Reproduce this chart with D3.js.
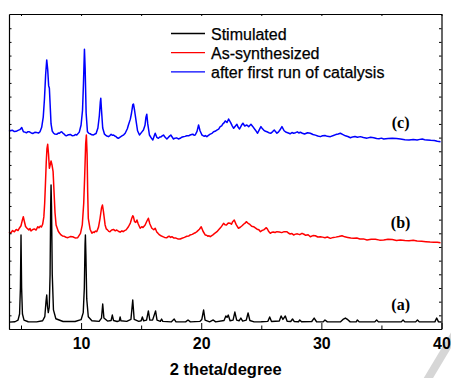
<html>
<head>
  <style>
  body { margin: 0; background: #fff; }
  #chart text { font-family: "Liberation Sans", Arial, sans-serif; }
  #chart .trace { fill: none; stroke-linejoin: round; }
  #chart .tag { font-family: "Liberation Serif", "Times New Roman", serif; font-weight: bold; font-size: 16px; text-anchor: middle; }
  #chart .legend text { stroke: #000; stroke-width: 0.25px; }
  </style>
  <script src="https://d3js.org/d3.v7.min.js"></script>
</head>
<body>
  <svg id="chart"></svg>
</body>
  <script>

  // [2 theta, intensity] (offset stacking kept as drawn)
  var simulated = [[4.0,5.0],[4.5,5.3],[4.75,6.5],[4.88,11],[4.95,30],[5.0,68.8],[5.05,30],[5.12,11],[5.25,6.5],[5.6,5.3],[6.3,5.2],[6.8,6.0],[6.98,9],[7.08,20],[7.14,24.9],[7.2,17],[7.27,12],[7.35,16],[7.42,40],[7.47,90],[7.5,105.3],[7.54,90],[7.6,40],[7.7,14],[7.9,7.5],[8.5,5.5],[9.5,5.5],[10.0,6.8],[10.18,12],[10.27,30],[10.33,62],[10.36,68.8],[10.4,55],[10.47,22],[10.6,9],[10.9,6],[11.5,5.6],[11.7,8],[11.8,18.3],[11.9,8],[12.2,5.8],[12.5,6.2],[12.6,10.2],[12.7,6.2],[13.0,5.5],[13.18,6],[13.25,8.8],[13.32,6],[13.8,5.6],[14.15,7],[14.3,21.2],[14.42,7],[14.8,5.6],[15.0,6],[15.1,8.8],[15.2,6],[15.45,6.5],[15.6,13.2],[15.72,6.5],[15.95,6.5],[16.2,13.2],[16.32,6.5],[16.6,5.6],[16.7,7.3],[16.8,5.6],[17.5,5.2],[17.75,7.3],[17.9,5.2],[18.7,5.2],[18.9,6.6],[19.1,5.2],[19.9,5.6],[20.05,7],[20.2,13.9],[20.32,6.5],[20.7,5.2],[21.0,6.6],[21.2,5.2],[21.9,6.2],[22.05,9.5],[22.15,8.5],[22.25,10.2],[22.4,6],[22.65,6.5],[22.8,12.4],[22.95,6.5],[23.15,6],[23.3,8.0],[23.45,5.8],[23.75,6.5],[23.9,11.7],[24.05,6.2],[24.4,5.2],[25.0,5.3],[25.55,5.6],[25.7,8.8],[25.85,5.5],[26.5,5.8],[26.65,9.5],[26.8,7],[27.0,9.5],[27.15,5.6],[27.45,5.5],[27.6,7.3],[27.75,5.4],[28.1,5.3],[28.2,6.6],[28.35,5.3],[29.2,5.5],[29.4,8.0],[29.6,5.3],[30.15,5.2],[30.3,6.6],[30.5,5.2],[31.6,5.3],[31.8,7],[32.0,8.0],[32.2,6.8],[32.4,5.2],[32.9,5.2],[33.0,6.6],[33.15,5.2],[34.45,5.2],[34.6,6.6],[34.75,5.2],[36.65,5.2],[36.8,6.6],[36.95,5.2],[37.85,5.2],[38.0,6.6],[38.15,5.2],[39.45,5.2],[39.6,8.0],[39.75,5.2],[40.0,5.1]];

  var asSynthesized = [[4.0,71.0],[4.15,70.2],[4.3,72.0],[4.45,71.1],[4.6,72.8],[4.75,72.0],[4.86,73.7],[5.0,75.5],[5.12,80],[5.19,82.1],[5.27,79],[5.38,75],[5.5,73.7],[5.65,72.5],[5.75,73.4],[5.83,71.7],[5.95,72.6],[6.1,73.2],[6.25,72.4],[6.4,74.8],[6.5,74.0],[6.6,75.3],[6.7,74.6],[6.8,76.6],[6.9,82],[6.97,92],[7.03,105.3],[7.1,122],[7.16,132],[7.22,135.1],[7.29,128],[7.36,117.6],[7.43,120],[7.5,122.9],[7.58,120],[7.67,115.1],[7.75,100],[7.83,85],[7.92,76.1],[8.1,71.5],[8.2,70.2],[8.33,68.8],[8.45,68.1],[8.6,67.8],[8.75,67.1],[8.9,66.8],[9.1,67.6],[9.3,67.5],[9.5,66.6],[9.72,66.8],[9.95,70],[10.1,76.1],[10.22,92],[10.3,112],[10.38,135],[10.44,141.9],[10.5,128],[10.55,100],[10.6,81.0],[10.75,73],[10.9,70.0],[11.0,71.0],[11.1,70.6],[11.2,71.6],[11.3,71.2],[11.45,74.5],[11.58,81.0],[11.7,88.5],[11.78,90.7],[11.86,86],[12.0,76.1],[12.1,73.2],[12.2,72.5],[12.3,71.4],[12.4,71.2],[12.55,72.4],[12.7,72.8],[12.85,71.8],[12.97,72.4],[13.1,71.5],[13.25,70.8],[13.4,71.8],[13.5,71.2],[13.62,72.0],[13.75,72.5],[13.94,74.8],[14.1,77.5],[14.22,81.0],[14.3,82.9],[14.36,82.0],[14.45,78.5],[14.55,78],[14.65,79.7],[14.75,77],[14.92,73.7],[15.05,74.8],[15.15,74.2],[15.33,76.1],[15.48,79],[15.6,81.0],[15.72,77],[15.89,73.7],[16.05,72.6],[16.17,73.7],[16.3,71],[16.42,69.8],[16.53,68.8],[16.65,68.2],[16.8,67.6],[16.95,67.0],[17.14,66.8],[17.25,67.6],[17.35,67.9],[17.45,67.0],[17.56,67.5],[17.7,66.6],[17.9,66.5],[18.05,65.9],[18.25,65.8],[18.4,66.4],[18.6,67],[18.8,67.8],[18.95,68.0],[19.08,68.8],[19.25,69.2],[19.4,70],[19.52,70.4],[19.64,71.2],[19.85,73],[20.0,74.8],[20.15,71.5],[20.33,68.8],[20.45,68.6],[20.55,67.8],[20.65,68.2],[20.75,67.5],[20.88,68.3],[21.0,69],[21.15,70.2],[21.31,71.2],[21.45,72.6],[21.6,74],[21.72,75.4],[21.86,77.3],[21.98,76.2],[22.1,76],[22.25,77.6],[22.42,77.3],[22.52,76.6],[22.6,78.2],[22.75,79.7],[22.9,76.5],[23.0,75.1],[23.1,73.7],[23.25,74.4],[23.4,75.5],[23.55,76.8],[23.65,77.4],[23.75,78.5],[23.9,77.3],[24.05,76.5],[24.2,75.2],[24.36,74.8],[24.5,74.0],[24.65,73],[24.8,72.6],[24.92,71.2],[25.05,72.0],[25.2,72.5],[25.3,73.2],[25.42,74.1],[25.52,73.0],[25.6,71.5],[25.75,70.0],[25.9,70.8],[26.0,71],[26.15,70.6],[26.3,71.2],[26.5,71.0],[26.7,70.5],[26.9,71.2],[27.14,71.2],[27.25,70.2],[27.4,69.5],[27.55,69.8],[27.69,68.8],[27.85,69.4],[28.0,69.6],[28.2,69.0],[28.39,70.0],[28.55,69.3],[28.7,68.5],[28.9,68.9],[29.08,67.5],[29.3,68.3],[29.5,68.2],[29.7,67.3],[29.92,67.5],[30.1,67.2],[30.3,66.8],[30.5,67.3],[30.75,66.3],[31.0,67.0],[31.2,67.2],[31.45,67.6],[31.72,68.2],[31.95,67.4],[32.2,67],[32.45,66.6],[32.69,66.3],[32.95,66.5],[33.2,65.8],[33.5,65.9],[33.8,65.1],[34.15,65.7],[34.5,65.6],[34.85,65.0],[35.19,65.1],[35.55,65.6],[35.9,65.4],[36.25,64.8],[36.58,65.1],[36.95,64.7],[37.3,64.5],[37.65,64.9],[37.97,64.4],[38.35,64.2],[38.7,63.9],[39.05,63.6],[39.36,63.4],[39.65,63.5],[39.92,63.1]];

  var afterCatalysis = [[4.0,144.5],[4.15,145.2],[4.3,145.3],[4.45,144.4],[4.6,144.6],[4.75,145.3],[4.9,145.8],[5.06,147.3],[5.2,144.3],[5.32,144.0],[5.45,143.5],[5.58,144.3],[5.7,144.2],[5.85,143.4],[6.0,143.0],[6.15,143.9],[6.3,143.8],[6.45,143.3],[6.58,144.3],[6.72,147.5],[6.85,155],[6.95,168],[7.05,186],[7.14,196.8],[7.22,190],[7.3,178],[7.36,176.1],[7.42,165],[7.5,150],[7.6,144.8],[7.7,143.4],[7.8,142.6],[7.97,142.4],[8.1,143.3],[8.2,143.2],[8.3,144.0],[8.4,144.2],[8.5,143.1],[8.6,142.5],[8.7,141.6],[8.8,141.4],[8.95,142.1],[9.1,142.3],[9.25,141.4],[9.4,141.5],[9.52,142.2],[9.64,141.9],[9.85,144],[10.0,149.2],[10.12,160],[10.2,180],[10.28,204.6],[10.34,190],[10.42,158],[10.53,144.3],[10.65,143.1],[10.75,142.8],[10.9,142.0],[11.03,141.9],[11.15,142.6],[11.25,143],[11.4,147],[11.52,156],[11.6,166],[11.64,168.8],[11.7,160],[11.8,147],[11.95,142.5],[12.1,141.3],[12.28,140.7],[12.4,141.5],[12.5,142.4],[12.6,141.7],[12.7,141.9],[12.8,141.2],[12.9,140.8],[13.0,139.9],[13.1,139.5],[13.25,140.4],[13.4,141.2],[13.55,142.0],[13.67,143.2],[13.85,146.5],[13.94,149.2],[14.1,153.5],[14.2,158],[14.3,164],[14.36,164.6],[14.45,160],[14.58,152],[14.7,145],[14.86,141.9],[15.05,144],[15.19,145.6],[15.32,149],[15.4,155],[15.47,157.1],[15.55,150],[15.69,141.9],[15.85,139.6],[15.97,138.3],[16.1,141.5],[16.17,143.2],[16.3,140.2],[16.44,139.5],[16.55,140.4],[16.65,140.5],[16.75,141.2],[16.86,141.9],[17.0,140.2],[17.14,139.0],[17.3,140.5],[17.47,141.9],[17.58,140.4],[17.69,139.0],[17.82,139.6],[17.95,139.8],[18.1,139.0],[18.25,139.5],[18.38,140.3],[18.5,140.6],[18.65,140.9],[18.8,141.4],[18.95,141.3],[19.08,141.9],[19.2,142.3],[19.3,142.5],[19.4,141.8],[19.5,141.9],[19.65,144.5],[19.78,149.2],[19.9,145],[20.06,141.9],[20.15,141.4],[20.25,141],[20.35,141.5],[20.47,140.7],[20.6,141.6],[20.75,142.5],[20.9,143.1],[21.03,144.3],[21.15,144.6],[21.3,145.5],[21.45,146.2],[21.58,148.0],[21.7,148.6],[21.8,150],[21.9,150.8],[22.0,152.2],[22.15,151],[22.28,153.6],[22.45,151],[22.58,148.6],[22.7,146.8],[22.85,148.5],[22.97,149.7],[23.08,147.5],[23.19,146.3],[23.35,149],[23.47,150.5],[23.62,148.5],[23.8,149.2],[23.95,148],[24.14,149.7],[24.3,148],[24.5,145.6],[24.69,143.2],[24.85,146],[24.97,148.0],[25.1,146.4],[25.2,145.5],[25.35,144.6],[25.47,144.3],[25.62,143.6],[25.8,143.2],[25.95,144.4],[26.08,145.6],[26.2,144.2],[26.3,143.2],[26.42,144.0],[26.55,145.5],[26.72,148.0],[26.9,145],[27.08,143.9],[27.25,143.4],[27.4,142.8],[27.55,143.7],[27.69,143.2],[27.85,143.6],[28.0,144.2],[28.12,143.4],[28.25,143.9],[28.42,143.2],[28.6,142.6],[28.85,143.5],[29.08,143.2],[29.3,142.3],[29.5,141.8],[29.7,141.2],[29.92,140.7],[30.1,141.3],[30.3,141.5],[30.5,140.9],[30.75,140.7],[31.0,141.5],[31.2,142.2],[31.4,142.6],[31.58,143.2],[31.8,142.2],[32.0,141.3],[32.2,140.8],[32.42,139.9],[32.6,140.5],[32.8,140.8],[33.0,140.2],[33.25,140.7],[33.5,140.1],[33.8,139.6],[34.1,140.2],[34.36,139.9],[34.6,139.3],[34.8,139.2],[35.0,139.6],[35.19,139.0],[35.55,139.4],[35.9,139.6],[36.25,139.3],[36.58,139.0],[36.95,138.5],[37.3,138.2],[37.65,138.6],[37.97,138.3],[38.2,138.7],[38.4,138.9],[38.6,138.5],[38.8,138.3],[39.1,138.0],[39.4,137.8],[39.65,137.3],[39.92,137.0]];

  var seriesNames = ["Stimulated", "As-synthesized", "after first run of catalysis"];
  var seriesColors = ["#000000", "#ff0000", "#0000ff"];
  var seriesWidths = [1.4, 1.5, 1.5];
  var traceTags = ["(a)", "(b)", "(c)"];
  var tagLevels = [14, 74, 147];   // intensity at which each tag sits
  var tagAt = 36.6;

  var xMajor = [10, 20, 30, 40];
  var xMinor = [5, 15, 25, 35];
  var yTicks = d3.range(10, 230, 10);

  var width = 451,
      height = 378;
  var plotL = 9, plotR = 441.5, plotT = 14, plotB = 329;

  var x = d3.scaleLinear().domain([4, 40]).range([plotL, plotR]);
  var y = d3.scaleLinear().domain([0, 230.4]).range([plotB, plotT]);

  var svg = d3.select("#chart")
      .attr("width", width)
      .attr("height", height);

  // faint diagonal watermark stroke in the corner
  svg.append("line")
      .attr("x1", 426).attr("y1", 382).attr("x2", 456).attr("y2", 332)
      .attr("stroke", "#d6d6d6").attr("stroke-width", 8);

  var line = d3.line()
      .x(function(d) { return x(d[0]); })
      .y(function(d) { return y(d[1]); });

  var data = [simulated, asSynthesized, afterCatalysis];
  [2, 1, 0].forEach(function(i) {
    svg.append("path")
        .attr("class", "trace")
        .attr("stroke", seriesColors[i])
        .attr("stroke-width", seriesWidths[i])
        .attr("d", line(data[i]));
  });

  // frame + inward ticks
  function noText(g) { g.selectAll("text").remove(); }

  svg.append("g")
      .attr("transform", "translate(0," + plotB + ")")
      .call(d3.axisBottom(x).tickValues(xMinor).tickSize(-3.5).tickSizeOuter(0))
      .call(noText);
  var xb = svg.append("g")
      .attr("transform", "translate(0," + plotB + ")")
      .call(d3.axisBottom(x).tickValues(xMajor).tickFormat(d3.format("d"))
        .tickSizeInner(-6).tickSizeOuter(0).tickPadding(8.5));
  xb.selectAll("text")
      .attr("font-size", 16).attr("font-weight", "bold").attr("fill", "#000");

  svg.append("g")
      .attr("transform", "translate(0," + plotT + ")")
      .call(d3.axisTop(x).tickValues(xMajor.concat(xMinor)).tickSize(-2).tickSizeOuter(0))
      .call(noText);
  svg.append("g")
      .attr("transform", "translate(" + plotL + ",0)")
      .call(d3.axisLeft(y).tickValues(yTicks).tickSize(-2.5).tickSizeOuter(0))
      .call(noText);
  svg.append("g")
      .attr("transform", "translate(" + plotR + ",0)")
      .call(d3.axisRight(y).tickValues(yTicks).tickSize(-2.5).tickSizeOuter(0))
      .call(noText);
  svg.selectAll(".domain").attr("stroke", "#000").attr("stroke-width", 1.2);

  svg.append("text")
      .attr("x", (plotL + plotR) / 2 + 0.5)
      .attr("y", 375)
      .attr("text-anchor", "middle")
      .attr("font-size", 16.5)
      .attr("font-weight", "bold")
      .text("2 theta/degree");

  // trace tags
  svg.selectAll(".tag")
      .data(traceTags)
    .enter().append("text")
      .attr("class", "tag")
      .attr("x", x(tagAt))
      .attr("y", function(d, i) { return y(tagLevels[i]); })
      .text(function(d) { return d; });

  // legend
  var legend = svg.selectAll(".legend")
      .data(seriesNames)
    .enter().append("g")
      .attr("class", "legend")
      .attr("transform", function(d, i) { return "translate(171," + (33.5 + i * 19.2) + ")"; });

  legend.append("line")
      .attr("x1", 0).attr("x2", 34)
      .attr("stroke", function(d, i) { return seriesColors[i]; })
      .attr("stroke-width", 1.3);

  legend.append("text")
      .attr("x", 40)
      .attr("y", 6.3)
      .attr("font-size", 16)
      .text(function(d) { return d; });

  </script>
</html>
